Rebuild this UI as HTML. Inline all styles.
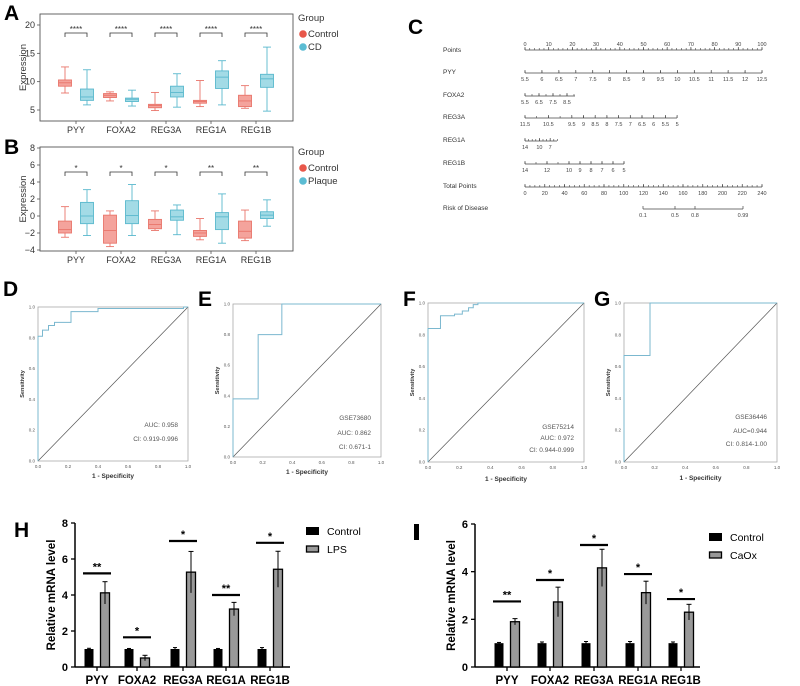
<!DOCTYPE html>
<html><head><meta charset="utf-8"><style>
html,body{margin:0;padding:0;background:#fff;}
svg{display:block;font-family:"Liberation Sans",sans-serif;}
</style></head><body>
<svg id="fig" width="800" height="686" viewBox="0 0 800 686" xmlns="http://www.w3.org/2000/svg"></svg>
<script>
// ---------- DATA ----------
const genes = ['PYY','FOXA2','REG3A','REG1A','REG1B'];
// boxplot stats: [min, q1, median, q3, max]
const aControl = [[8.0,9.2,9.8,10.3,12.6],[6.6,7.2,7.6,7.9,8.2],[4.9,5.4,5.8,6.0,8.1],[5.6,6.2,6.5,6.7,10.2],[5.3,5.6,6.6,7.6,9.3]];
const aCD      = [[5.9,6.7,7.3,8.7,12.1],[5.7,6.5,6.9,7.1,8.5],[5.5,7.3,8.1,9.2,11.4],[5.9,8.8,10.8,11.9,13.7],[4.8,9.0,10.5,11.3,16.1]];
const aSig = ['****','****','****','****','****'];
const aTicks = [5,10,15,20];
const bControl = [[-2.5,-2.0,-1.6,-0.6,1.1],[-3.6,-3.2,-1.7,0.1,0.6],[-1.7,-1.5,-1.0,-0.4,0.6],[-2.8,-2.4,-2.0,-1.7,-0.3],[-2.9,-2.6,-1.8,-0.6,0.7]];
const bPlaque  = [[-2.3,-0.9,0.0,1.6,3.1],[-2.3,-0.9,0.05,1.8,3.7],[-2.2,-0.5,-0.1,0.7,1.3],[-3.2,-1.6,-0.1,0.4,2.6],[-1.2,-0.3,0.1,0.5,1.9]];
const bSig = ['*','*','*','**','**'];
const bTicks = [-4,-2,0,2,4,6,8];
// ROC curves (fpr, tpr pairs)
const rocD = [[0,0],[0,0.81],[0.03,0.81],[0.03,0.85],[0.07,0.85],[0.07,0.88],[0.11,0.88],[0.11,0.9],[0.22,0.9],[0.22,0.97],[0.4,0.97],[0.4,0.99],[0.97,0.99],[0.97,1],[1,1]];
const rocE = [[0,0],[0,0.38],[0.17,0.38],[0.17,0.8],[0.33,0.8],[0.33,1],[1,1]];
const rocF = [[0,0],[0,0.84],[0.08,0.84],[0.08,0.92],[0.17,0.92],[0.17,0.93],[0.22,0.93],[0.22,0.95],[0.26,0.95],[0.26,0.97],[0.29,0.97],[0.29,0.99],[0.32,0.99],[0.32,1],[1,1]];
const rocG = [[0,0],[0,0.67],[0.17,0.67],[0.17,1],[1,1]];
const rocTicks = ['0.0','0.2','0.4','0.6','0.8','1.0'];
// bar charts
const hControl = [1,1,1,1,1];
const hControlErr = [0.04,0.03,0.08,0.03,0.08];
const hLPS = [4.12,0.5,5.27,3.22,5.43];
const hLPSErr = [0.62,0.15,1.15,0.37,1.0];
const hSigY = [5.2,1.65,7.0,4.0,6.9];
const hSig = ['**','*','*','**','*'];
const hTicks = [0,2,4,6,8];
const iControl = [1,1,1,1,1];
const iControlErr = [0.03,0.05,0.07,0.07,0.05];
const iCaOx = [1.9,2.73,4.16,3.12,2.3];
const iCaOxErr = [0.13,0.62,0.78,0.48,0.33];
const iSigY = [2.75,3.65,5.12,3.9,2.85];
const iSig = ['**','*','*','*','*'];
const iTicks = [0,2,4,6];

// ---------- HELPERS ----------
const NS='http://www.w3.org/2000/svg';
const svg=document.getElementById('fig');
function mk(tag, attrs, name, parent){
  const el=document.createElementNS(NS,tag);
  for(const k in attrs) el.setAttribute(k,attrs[k]);
  
  
  (parent||svg).appendChild(el);
  return el;
}
function txt(x,y,s,a,name,parent){
  const el=mk('text',Object.assign({x:x,y:y},a||{}),name,parent);
  el.textContent=s; return el;
}
function line(x1,y1,x2,y2,st,w,name,parent){
  return mk('line',{x1:x1,y1:y1,x2:x2,y2:y2,stroke:st,'stroke-width':w},name,parent);
}
function letter(x,y,s){ txt(x,y,s,{'font-size':21,'font-weight':'bold'},'panel-label-'+s.toLowerCase()); }

// ---------- PANELS A & B ----------
function boxPanel(id, ctrl, trt, sig, ticks, yOf, top, bot, sigY, leg2, legY){
  const g=mk('g',{},'panel-'+id+'-boxplot');
  mk('rect',{x:40,y:top,width:253,height:bot-top,fill:'none',stroke:'#555','stroke-width':0.9},'plot-frame',g);
  ticks.forEach(t=>{
    const y=yOf(t);
    line(37,y,40,y,'#555',0.8,'y-tick',g);
    txt(35,y+3,String(t).replace('-','−'),{'font-size':9,'text-anchor':'end',fill:'#333'},'y-tick-label',g);
  });
  txt(0,0,'Expression',{'font-size':9.5,'text-anchor':'middle',fill:'#333',transform:'translate(26,'+((top+bot)/2)+') rotate(-90)'},'y-axis-title',g);
  genes.forEach((gn,i)=>{
    const cx=76+45*i;
    line(cx,bot,cx,bot+3,'#555',0.8,'x-tick',g);
    txt(cx,bot+12,gn,{'font-size':9,'text-anchor':'middle',fill:'#333'},'x-tick-label',g);
    [[ctrl[i],-11,'#f4a39c','#e9756b','control'],[trt[i],11,'#a3dbe6','#59b8cd','treatment']].forEach(d=>{
      const s=d[0],x=cx+d[1],w=13;
      line(x,yOf(s[0]),x,yOf(s[1]),d[3],0.9,'whisker',g);
      line(x,yOf(s[3]),x,yOf(s[4]),d[3],0.9,'whisker',g);
      line(x-4,yOf(s[0]),x+4,yOf(s[0]),d[3],0.9,'whisker-cap',g);
      line(x-4,yOf(s[4]),x+4,yOf(s[4]),d[3],0.9,'whisker-cap',g);
      mk('rect',{x:x-w/2,y:yOf(s[3]),width:w,height:yOf(s[1])-yOf(s[3]),fill:d[2],stroke:d[3],'stroke-width':0.9},'box-'+d[4]+'-'+gn.toLowerCase(),g);
      line(x-w/2,yOf(s[2]),x+w/2,yOf(s[2]),d[3],0.9,'median',g);
    });
    mk('path',{d:'M'+(cx-11)+' '+(sigY+4)+'V'+sigY+'H'+(cx+11)+'V'+(sigY+4),fill:'none',stroke:'#333','stroke-width':0.8},'significance-bracket',g);
    txt(cx,sigY-1,sig[i],{'font-size':8,'text-anchor':'middle',fill:'#333'},'significance-label',g);
  });
  txt(298,legY,'Group',{'font-size':9.5,fill:'#333'},'legend-title',g);
  mk('circle',{cx:303,cy:legY+13,r:3.8,fill:'#e8574a'},'legend-dot-control',g);
  txt(308,legY+16,'Control',{'font-size':9.5,fill:'#333'},'legend-entry-control',g);
  mk('circle',{cx:303,cy:legY+26,r:3.8,fill:'#5bbcd3'},'legend-dot-'+leg2.toLowerCase(),g);
  txt(308,legY+29,leg2,{'font-size':9.5,fill:'#333'},'legend-entry-'+leg2.toLowerCase(),g);
}
letter(4,20,'A');
boxPanel('a',aControl,aCD,aSig,aTicks,v=>110-(v-5)*5.667,14,121,33,'CD',21);
letter(4,154,'B');
boxPanel('b',bControl,bPlaque,bSig,bTicks,v=>216-v*8.5,147,251,172,'Plaque',155);

// ---------- PANEL C (nomogram) ----------
letter(408,34,'C');
const nomoRows = ['Points','PYY','FOXA2','REG3A','REG1A','REG1B','Total Points','Risk of Disease'];
const nomoRowY = [51,73,96,118,141,164,187,209];
const gC=mk('g',{},'panel-c-nomogram');
nomoRows.forEach((r,i)=>txt(443,nomoRowY[i]+1,r,{'font-size':6.5,fill:'#333'},'row-label',gC));
function scale(y, x0, x1, ticks, labels, above, name){
  const g=mk('g',{},name,gC);
  line(x0,y,x1,y,'#444',0.7,'scale-line',g);
  ticks.forEach(x=>line(x,y,x,above?y-2:y-2,'#444',0.6,'scale-tick',g));
  labels.forEach(l=>{ line(l[0],y,l[0],y-3,'#444',0.7,'scale-major-tick',g);
    txt(l[0],above?y-4:y+8,l[1],{'font-size':5.5,'text-anchor':'middle',fill:'#444'},'scale-label',g); });
}
(function(){
  const px=p=>525+p*2.37;
  const pts=[];for(let p=0;p<=100;p+=2)pts.push(px(p));
  const lab=[];for(let p=0;p<=100;p+=10)lab.push([px(p),String(p)]);
  scale(50,525,762,pts,lab,true,'points-scale');
  const pyy=[],pl=[];for(let v=5.5;v<=12.51;v+=0.5){pyy.push(525+(v-5.5)*33.86);pl.push([525+(v-5.5)*33.86,String(+v.toFixed(1))]);}
  scale(73,525,762,pyy,pl,false,'pyy-scale');
  const fx=[],fl=[];for(let v=5.5;v<=9.01;v+=0.5)fx.push(525+(v-5.5)*14);
  ['5.5','6.5','7.5','8.5'].forEach(s=>fl.push([525+(+s-5.5)*14,s]));
  scale(96,525,575,fx,fl,false,'foxa2-scale');
  const rx=[],rl=[];for(let v=11.5;v>=4.99;v-=0.5)rx.push(525+(11.5-v)*23.4);
  ['11.5','10.5','9.5','9','8.5','8','7.5','7','6.5','6','5.5','5'].forEach(s=>rl.push([525+(11.5-s)*23.4,s]));
  scale(118,525,677,rx,rl,false,'reg3a-scale');
  const ax=[],al=[];for(let v=14;v>=5;v--)ax.push(525+(14-v)*3.6);
  ['14','10','7'].forEach(s=>al.push([525+(14-s)*3.6,s]));
  scale(141,525,557,ax,al,false,'reg1a-scale');
  const bx=[],bl=[];for(let v=14;v>=5;v--)bx.push(525+(14-v)*11);
  ['14','12','10','9','8','7','6','5'].forEach(s=>bl.push([525+(14-s)*11,s]));
  scale(164,525,624,bx,bl,false,'reg1b-scale');
  const tx=[],tl=[];for(let t=0;t<=240;t+=5)tx.push(525+t*0.9875);
  for(let t=0;t<=240;t+=20)tl.push([525+t*0.9875,String(t)]);
  scale(187,525,762,tx,tl,false,'total-points-scale');
  scale(209,643,743,[],[[643,'0.1'],[675,'0.5'],[695,'0.8'],[743,'0.99']],false,'risk-scale');
})();

// ---------- ROC PANELS ----------
function roc(id, pts, x0,x1,y0,y1, notes, noteY, xtY){
  const g=mk('g',{},'panel-'+id+'-roc');
  const sx=v=>x0+v*(x1-x0), sy=v=>y1-v*(y1-y0);
  mk('rect',{x:x0,y:y0,width:x1-x0,height:y1-y0,fill:'none',stroke:'#aaa','stroke-width':0.8},'plot-frame',g);
  line(sx(0),sy(0),sx(1),sy(1),'#555',0.7,'reference-diagonal',g);
  mk('polyline',{points:pts.map(p=>sx(p[0])+','+sy(p[1])).join(' '),fill:'none',stroke:'#7bb8cf','stroke-width':1},'roc-curve',g);
  rocTicks.forEach((t,i)=>{
    txt(sx(i/5),y1+7,t,{'font-size':4.5,'text-anchor':'middle',fill:'#555'},'x-tick-label',g);
    txt(x0-3,sy(i/5)+1.5,t,{'font-size':4.5,'text-anchor':'end',fill:'#555'},'y-tick-label',g);
  });
  txt(0,0,'Sensitivity',{'font-size':5.5,'font-weight':'bold','text-anchor':'middle',fill:'#333',transform:'translate('+(x0-14)+','+((y0+y1)/2)+') rotate(-90)'},'y-axis-title',g);
  txt((x0+x1)/2,xtY,'1 - Specificity',{'font-size':6.5,'font-weight':'bold','text-anchor':'middle',fill:'#333'},'x-axis-title',g);
  notes.forEach((n,i)=>txt(x1-10,noteY[i],n,{'font-size':6.5,'text-anchor':'end',fill:'#555'},'annotation',g));
}
letter(3,296,'D'); letter(198,306,'E'); letter(403,306,'F'); letter(594,306,'G');
roc('d',rocD,38,188,307,461,['AUC: 0.958','CI: 0.919-0.996'],[427,441],478);
roc('e',rocE,233,381,304,457,['GSE73680','AUC: 0.862','CI: 0.671-1'],[420,435,449],474);
roc('f',rocF,428,584,303,462,['GSE75214','AUC: 0.972','CI: 0.944-0.999'],[429,440,452],481);
roc('g',rocG,624,777,303,462,['GSE36446','AUC=0.944','CI: 0.814-1.00'],[419,433,446],480);

// ---------- BAR PANELS ----------
function bars(id, ctrl, ctrlErr, trt, trtErr, sigY, sig, ticks, ymax, ax, ax1, y0, y1, centers, trtName, legX, legY){
  const g=mk('g',{},'panel-'+id+'-bars');
  const sy=v=>y0-v*(y0-y1)/ymax;
  line(ax,y1,ax,y0,'#000',1.5,'y-axis',g);
  line(ax,y0,ax1,y0,'#000',1.5,'x-axis',g);
  ticks.forEach(t=>{ line(ax-4,sy(t),ax,sy(t),'#000',1.3,'y-tick',g);
    txt(ax-7,sy(t)+4,String(t),{'font-size':11,'font-weight':'bold','text-anchor':'end'},'y-tick-label',g); });
  txt(0,0,'Relative mRNA level',{'font-size':11.5,'font-weight':'bold','text-anchor':'middle',transform:'translate('+(ax-20)+','+((y0+y1)/2)+') rotate(-90)'},'y-axis-title',g);
  genes.forEach((gn,i)=>{
    const c=centers[i], w=9;
    line(c,y0,c,y0+4,'#000',1.3,'x-tick',g);
    txt(c,y0+17,gn,{'font-size':11.5,'font-weight':'bold','text-anchor':'middle'},'x-tick-label',g);
    const xc=c-8, xt=c+8;
    mk('rect',{x:xc-w/2,y:sy(ctrl[i]),width:w,height:y0-sy(ctrl[i]),fill:'#000'},'bar-control-'+gn.toLowerCase(),g);
    line(xc,sy(ctrl[i]-ctrlErr[i]),xc,sy(ctrl[i]+ctrlErr[i]),'#000',1,'error-bar',g);
    line(xc-2,sy(ctrl[i]+ctrlErr[i]),xc+2,sy(ctrl[i]+ctrlErr[i]),'#000',1,'error-cap',g);
    mk('rect',{x:xt-w/2,y:sy(trt[i]),width:w,height:y0-sy(trt[i]),fill:'#999',stroke:'#000','stroke-width':1.3},'bar-'+trtName.toLowerCase()+'-'+gn.toLowerCase(),g);
    line(xt,sy(trt[i]-trtErr[i]),xt,sy(trt[i]+trtErr[i]),'#000',1,'error-bar',g);
    line(xt-2.5,sy(trt[i]+trtErr[i]),xt+2.5,sy(trt[i]+trtErr[i]),'#000',1,'error-cap',g);
    line(xc-6,sy(sigY[i]),xt+6,sy(sigY[i]),'#000',2.2,'significance-line',g);
    txt(c,sy(sigY[i])-3,sig[i],{'font-size':11,'font-weight':'bold','text-anchor':'middle'},'significance-label',g);
  });
  mk('rect',{x:legX,y:legY-4,width:13,height:8,fill:'#000'},'legend-swatch-control',g);
  txt(legX+21,legY+4,'Control',{'font-size':10.5},'legend-entry-control',g);
  mk('rect',{x:legX+0.5,y:legY+15,width:12,height:6,fill:'#999',stroke:'#000','stroke-width':1.3},'legend-swatch-'+trtName.toLowerCase(),g);
  txt(legX+21,legY+22,trtName,{'font-size':10.5},'legend-entry-'+trtName.toLowerCase(),g);
}
letter(14,537,'H');
bars('h',hControl,hControlErr,hLPS,hLPSErr,hSigY,hSig,hTicks,8,75,290,667,523,[97,137,183,226,270],'LPS',306,531);
mk('rect',{x:414,y:524,width:5,height:16,fill:'#000'},'panel-label-i');
bars('i',iControl,iControlErr,iCaOx,iCaOxErr,iSigY,iSig,iTicks,6,475,700,667,524,[507,550,594,638,681],'CaOx',709,537);
</script>
</body></html>
